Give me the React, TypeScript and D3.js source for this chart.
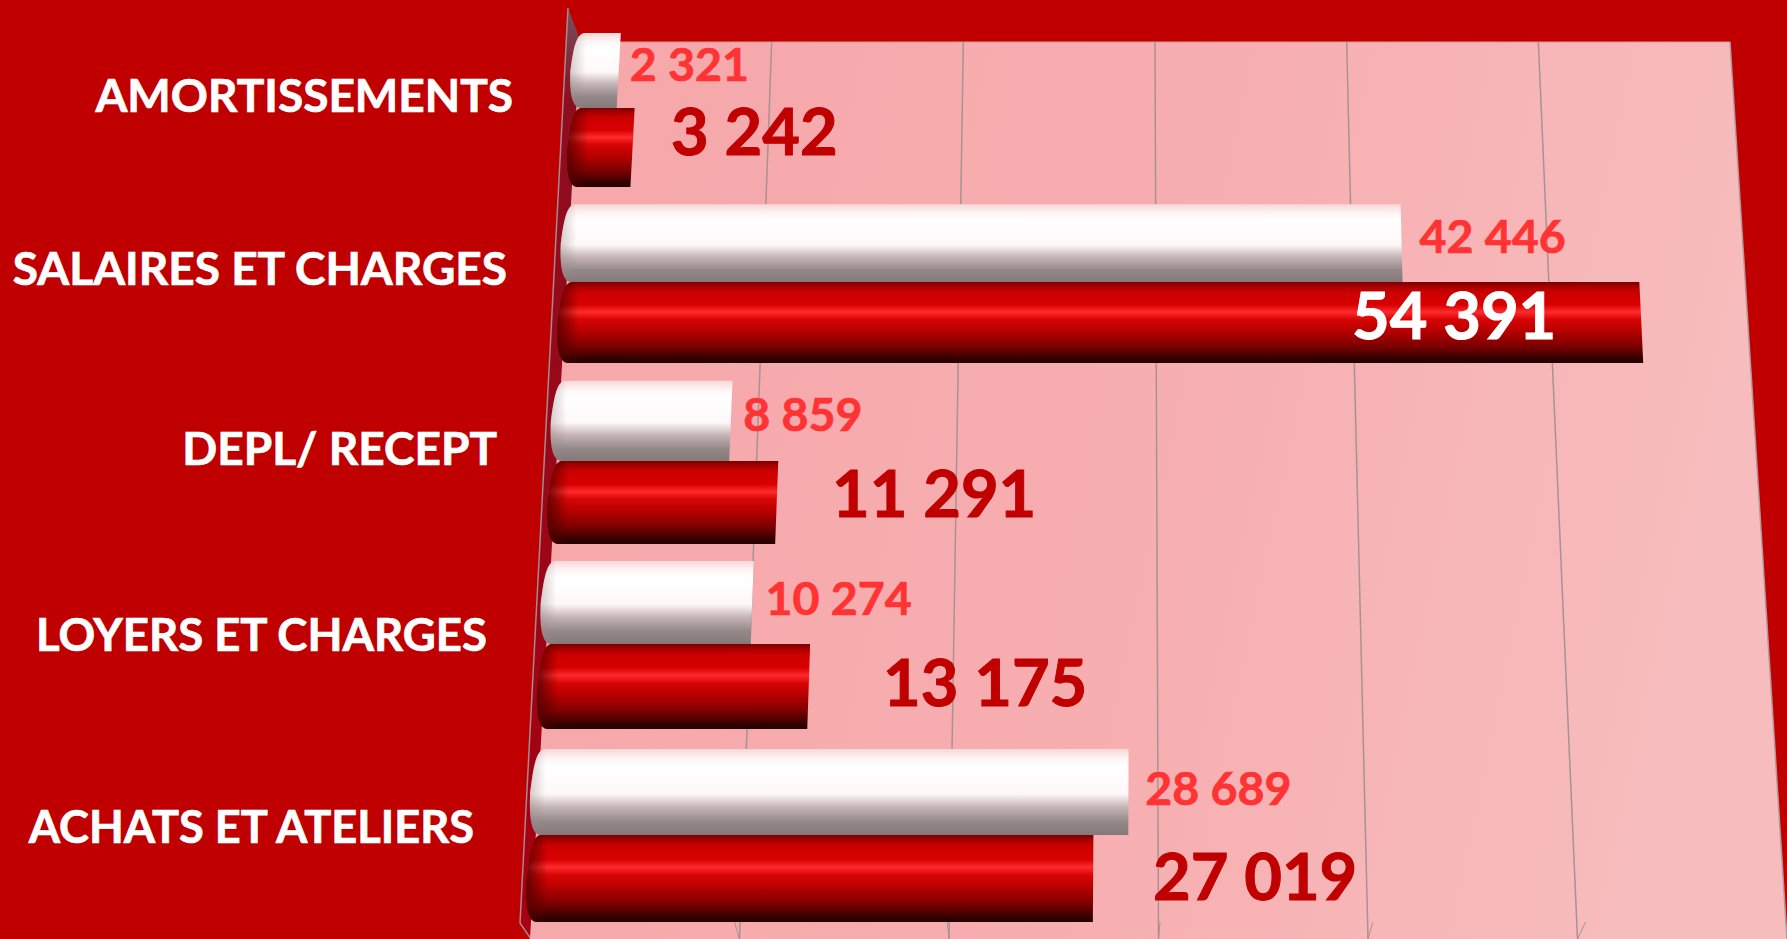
import React from "react";
import * as d3 from "d3";

// ---- data ----
const categories = ["AMORTISSEMENTS", "SALAIRES ET CHARGES", "DEPL/ RECEPT", "LOYERS ET CHARGES", "ACHATS ET ATELIERS"];
const whiteSeries = [2321, 42446, 8859, 10274, 28689];
const redSeries = [3242, 54391, 11291, 13175, 27019];
const axisTicks = [0, 10000, 20000, 30000, 40000, 50000, 60000];

// ---- layout ----
const W = 1787, H = 939;
const rowSeams = [108, 282, 461, 644, 835];
const labelRight = [513, 507, 497, 487, 474];
const labelBase = [112, 285, 465, 651, 843];
const labelSize = [46, 46, 46, 45.5, 45.2];
const whiteLabelGap = [13, 17, 14, 15, 17];
const whiteLabelBase = [81, 253, 431, 615, 805];
const redLabelX = [671, 1352, 832, 883, 1153];
const redLabelBase = [155, 339, 517, 706, 900];

const wallTop = 42, wallBottom = H;
const leftEdge = d3.scaleLinear().domain([wallTop, wallBottom]).range([580, 530]);
const rightEdge = d3.scaleLinear().domain([wallTop, wallBottom]).range([1730, 1787]);
const xAt = (v: number, y: number) =>
  d3.scaleLinear().domain([0, 60000]).range([leftEdge(y), rightEdge(y)])(v);
// bars sit slightly in front of the wall, so their scale is a touch wider
const barX = (v: number, y: number) => {
  const drift = -5 - (y - 150) * 0.004;
  return d3.scaleLinear().domain([0, 60000]).range([leftEdge(y) + drift, rightEdge(y) + drift + 10.8])(v);
};
const whiteH = d3.scaleLinear().domain([108, 835]).range([75, 86]);
const redH = d3.scaleLinear().domain([108, 835]).range([79, 87]);

const fmt = d3.formatLocale({ decimal: ",", thousands: " ", grouping: [3], currency: ["", ""] }).format(",d");

function barPath(v: number, y0: number, y1: number, bulge: number) {
  const p = d3.path();
  const lt = xAt(0, y0) - bulge, lb = xAt(0, y1) - bulge;
  const h = y1 - y0;
  const lm = (lt + lb) / 2;
  p.moveTo(lt + 10, y0);
  p.lineTo(barX(v, y0), y0);
  p.lineTo(barX(v, y1), y1);
  p.lineTo(lb + 10, y1);
  p.bezierCurveTo(lb + 2, y1 - 1, lb - 1, y1 - h * 0.18, lm - 2, y0 + h * 0.5);
  p.bezierCurveTo(lt - 1, y0 + h * 0.18, lt + 2, y0 + 1, lt + 10, y0);
  p.closePath();
  return p.toString();
}

const font = "Lato, Carlito, Calibri, sans-serif";

export default function App() {
  return (
    <svg width={W} height={H} viewBox={`0 0 ${W} ${H}`} style={{ position: "absolute", left: 0, top: 0, display: "block" }}>
      <defs>
        <linearGradient id="wall" x1="0" x2="1" y1="0" y2="0.15">
          <stop offset="0" stopColor="#f6a7aa" />
          <stop offset="0.55" stopColor="#f7aeb0" />
          <stop offset="1" stopColor="#f7bcbd" />
        </linearGradient>
        <linearGradient id="side" x1="0" x2="0" y1="0" y2="1">
          <stop offset="0" stopColor="#75505f" />
          <stop offset="0.1" stopColor="#8e0d20" />
          <stop offset="1" stopColor="#a80010" />
        </linearGradient>
        <linearGradient id="whiteBar" x1="0" x2="0" y1="0" y2="1">
          <stop offset="0" stopColor="#f6d8d8" />
          <stop offset="0.12" stopColor="#fff6f6" />
          <stop offset="0.2" stopColor="#ffffff" />
          <stop offset="0.52" stopColor="#fff8f8" />
          <stop offset="0.68" stopColor="#c4b4b5" />
          <stop offset="0.85" stopColor="#938787" />
          <stop offset="1" stopColor="#857878" />
        </linearGradient>
        <linearGradient id="redBar" x1="0" x2="0" y1="0" y2="1">
          <stop offset="0" stopColor="#7c0000" />
          <stop offset="0.07" stopColor="#b00000" />
          <stop offset="0.13" stopColor="#cc0000" />
          <stop offset="0.28" stopColor="#d80000" />
          <stop offset="0.37" stopColor="#ff2a2c" />
          <stop offset="0.46" stopColor="#d80505" />
          <stop offset="0.6" stopColor="#b80000" />
          <stop offset="0.8" stopColor="#7a0000" />
          <stop offset="0.93" stopColor="#3a0000" />
          <stop offset="1" stopColor="#220000" />
        </linearGradient>
      </defs>

      <rect width={W} height={H} fill="#c00000" />

      {/* side wall */}
      <polygon points="568,8 581,42 531,939 520,923" fill="url(#side)" />
      <line x1="568" y1="8" x2="520" y2="923" stroke="#a58a8f" strokeWidth="1.5" />
      <line x1="520" y1="923" x2="531" y2="939" stroke="#a58a8f" strokeWidth="1.5" />

      {/* back wall */}
      <polygon
        points={`${leftEdge(wallTop)},${wallTop} ${rightEdge(wallTop)},${wallTop} ${rightEdge(wallBottom)},${wallBottom} ${leftEdge(wallBottom)},${wallBottom}`}
        fill="url(#wall)"
      />
      <line x1={xAt(0, wallTop)} y1={wallTop} x2={xAt(60000, wallTop)} y2={wallTop} stroke="#d89a9c" strokeWidth="1" />
      <line x1={rightEdge(wallTop)} y1={wallTop} x2={rightEdge(wallBottom)} y2={wallBottom} stroke="#b09a9c" strokeWidth="1.5" />

      {axisTicks.slice(1, -1).map((t) => (
        <g key={t} stroke="#a89293" strokeWidth="1.5" fill="none">
          <line x1={xAt(t, wallTop)} y1={wallTop} x2={xAt(t, wallBottom)} y2={wallBottom} />
          <line x1={xAt(t, wallBottom)} y1={wallBottom} x2={xAt(t, wallBottom) - 8.25 + t * 0.000325} y2={wallBottom - 17} strokeWidth="1" />
        </g>
      ))}

      {categories.map((c, i) => {
        const seam = rowSeams[i];
        const wTop = seam - whiteH(seam);
        const rBottom = seam + redH(seam);
        const wEnd = barX(whiteSeries[i], seam);
        return (
          <g key={c}>
            <linearGradient id={`capW${i}`} gradientUnits="userSpaceOnUse" x1={xAt(0, seam) - 10} x2={xAt(0, seam) + 10} y1="0" y2="0">
              <stop offset="0" stopColor="#9a8888" stopOpacity="0.5" />
              <stop offset="1" stopColor="#9a8888" stopOpacity="0" />
            </linearGradient>
            <linearGradient id={`capR${i}`} gradientUnits="userSpaceOnUse" x1={xAt(0, seam) - 8} x2={xAt(0, seam) + 12} y1="0" y2="0">
              <stop offset="0" stopColor="#500000" stopOpacity="0.75" />
              <stop offset="1" stopColor="#500000" stopOpacity="0" />
            </linearGradient>
            <path d={barPath(redSeries[i], seam, rBottom, 5)} fill="url(#redBar)" />
            <path d={barPath(redSeries[i], seam, rBottom, 5)} fill={`url(#capR${i})`} />
            <path d={barPath(whiteSeries[i], wTop, seam, 6)} fill="url(#whiteBar)" />
            <path d={barPath(whiteSeries[i], wTop, seam, 6)} fill={`url(#capW${i})`} />

            <text x={labelRight[i]} y={labelBase[i]} textAnchor="end" fontFamily={font} fontWeight={700} fontSize={labelSize[i]} fill="#ffffff" stroke="#ffffff" strokeWidth={0.7}>{c}</text>
            <text x={wEnd + whiteLabelGap[i]} y={whiteLabelBase[i]} fontFamily={font} fontWeight={700} fontSize={46.5} fill="#ff3333" stroke="#ff3333" strokeWidth={0.7}>{fmt(whiteSeries[i])}</text>
            <text x={redLabelX[i]} y={redLabelBase[i]} fontFamily={font} fontWeight={700} fontSize={65} fill={i === 1 ? "#ffffff" : "#c00000"} stroke={i === 1 ? "#ffffff" : "#c00000"} strokeWidth={1}>{fmt(redSeries[i])}</text>
          </g>
        );
      })}
    </svg>
  );
}
